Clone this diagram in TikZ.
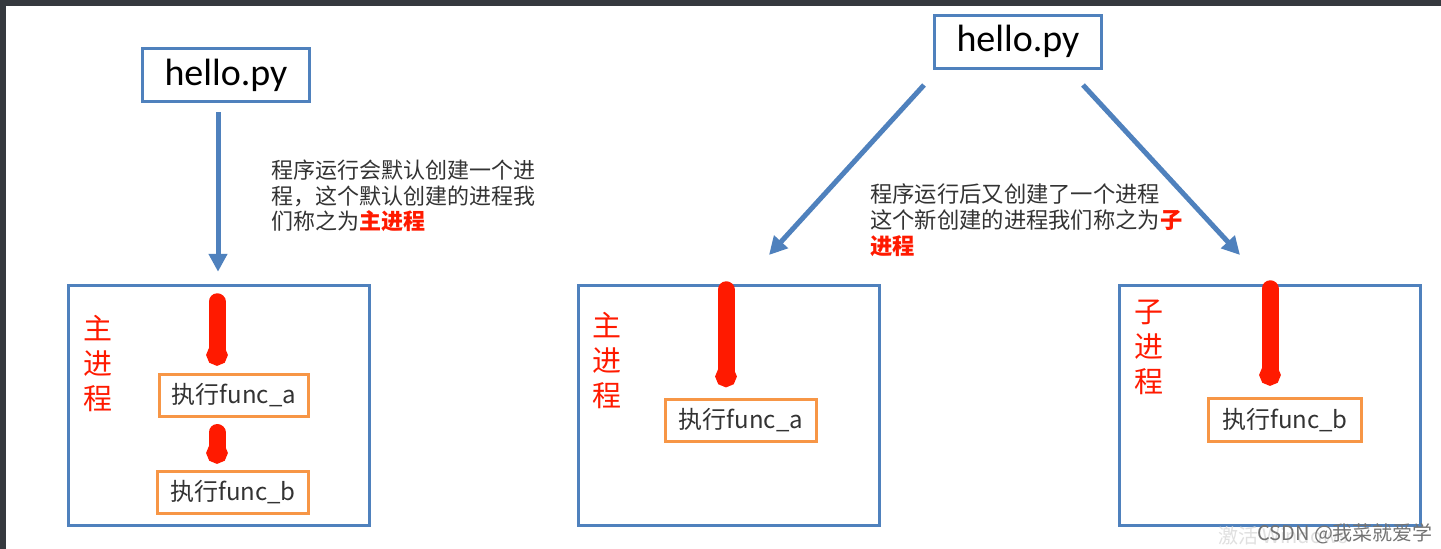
\documentclass[tikz,border=0pt]{standalone}
\usepackage{fontspec}
\setmainfont{Noto Sans CJK SC}
\newfontfamily\calfont{Carlito}
\usetikzlibrary{arrows.meta,calc}
\definecolor{pblue}{HTML}{4F81BD}
\definecolor{porange}{HTML}{F79646}
\definecolor{pred}{HTML}{FF1A00}
\definecolor{ptext}{HTML}{333333}
\definecolor{pframe}{HTML}{35393E}
\tikzset{
  filebox/.style={draw=pblue, line width=3pt, minimum width=167pt, minimum height=53pt, inner sep=0pt, font=\calfont\fontsize{38}{40}\selectfont, text=black},
  procbox/.style={draw=pblue, line width=3.5pt, minimum width=301pt, minimum height=240pt, inner sep=0pt},
  funcbox/.style={draw=porange, line width=3pt, minimum height=42pt, inner sep=0pt, font=\fontsize{24}{26}\selectfont, text=ptext},
  bluearrow/.style={draw=pblue, line width=5pt, -{Triangle[width=18pt,length=18pt]}},
  redbar/.style={draw=pred, line width=17pt, line cap=round, -{Circle[length=21pt,width=21pt]}},
  vlabel/.style={text=pred, align=center, inner sep=0pt, font=\fontsize{29}{35}\selectfont},
  annot/.style={anchor=base west, inner sep=0pt, text=ptext},
}
\begin{document}
\begin{tikzpicture}[x=1pt,y=-1pt]
\useasboundingbox (0,0) rectangle (1441,549);
\fill[white] (0,0) rectangle (1441,549);
\fill[pframe] (0,0) rectangle (1441,6);
\fill[pframe] (0,0) rectangle (6,549);

% file boxes
\node[filebox] (h1) at (226,75) {hello.py};
\node[filebox] (h2) at (1018,41.5) {hello.py};

% process boxes
\node[procbox] (pm) at (219,405.5) {};
\node[procbox] (mm) at (729,405.5) {};
\node[procbox] (cm) at (1270,405.5) {};

% function boxes
\node[funcbox, minimum width=149pt] (fa1) at (234,395) {执行func\_a};
\node[funcbox, minimum width=151pt] (fb1) at (233,492.5) {执行func\_b};
\node[funcbox, minimum width=151pt] (fa2) at (741,420.5) {执行func\_a};
\node[funcbox, minimum width=153pt, minimum height=43pt] (fb2) at (1285,420) {执行func\_b};

% vertical labels
\node[vlabel] (l1) at (98,364) {主\\进\\程};
\node[vlabel] (l2) at (607,361) {主\\进\\程};
\node[vlabel] (l3) at (1149,347) {子\\进\\程};

% blue arrows
\draw[bluearrow] ($(h1.south -| pm.north)+(-1,9)$) -- ($(pm.north)+(-1,-12)$);
\coordinate (d1s) at (924,85);
\coordinate (d1e) at (769,255);
\coordinate (d2s) at (1083,85);
\coordinate (d2e) at (1240,255);
\draw[bluearrow] (d1s) -- (d1e);
\draw[bluearrow] (d2s) -- (d2e);

% red bars
\draw[redbar] ($(pm.north)+(-2,18)$) -- ($(fa1.north -| pm.north)+(-2,-7)$);
\draw[redbar] ($(fa1.south -| pm.north)+(-2,15)$) -- ($(fb1.north -| pm.north)+(-2,-6.5)$);
\draw[redbar] ($(mm.north)+(-3,6)$) -- ($(fa2.north -| mm.north)+(-3,-11)$);
\draw[redbar] ($(cm.north)+(0,5)$) -- ($(fb2.north -| cm.north)+(0,-11.5)$);

% annotations
\begin{scope}[font=\fontsize{22}{26}\selectfont]
\node[annot] (t1a) at (271,178) {程序运行会默认创建一个进};
\node[annot] (t1b) at (271,204) {程，这个默认创建的进程我};
\node[annot] (t1c) at (271,229) {们称之为\textcolor{pred}{\bfseries 主进程}};
\end{scope}
\begin{scope}[font=\fontsize{22.3}{26}\selectfont]
\node[annot] (t2a) at (870,202) {程序运行后又创建了一个进程};
\node[annot] (t2b) at (870,228) {这个新创建的进程我们称之为\textcolor{pred}{\bfseries 子}};
\node[annot] (t2c) at (870,254) {\textcolor{pred}{\bfseries 进程}};
\end{scope}

% watermarks
\node[anchor=base west, inner sep=0pt, text=black!12, font=\fontsize{20}{22}\selectfont] (w1) at (1218,543) {激活 Windows};
\node[anchor=base west, inner sep=0pt, text=black!55, font=\fontsize{20}{22}\selectfont] (w2) at (1257,540) {CSDN @我菜就爱学};
\end{tikzpicture}
\end{document}
